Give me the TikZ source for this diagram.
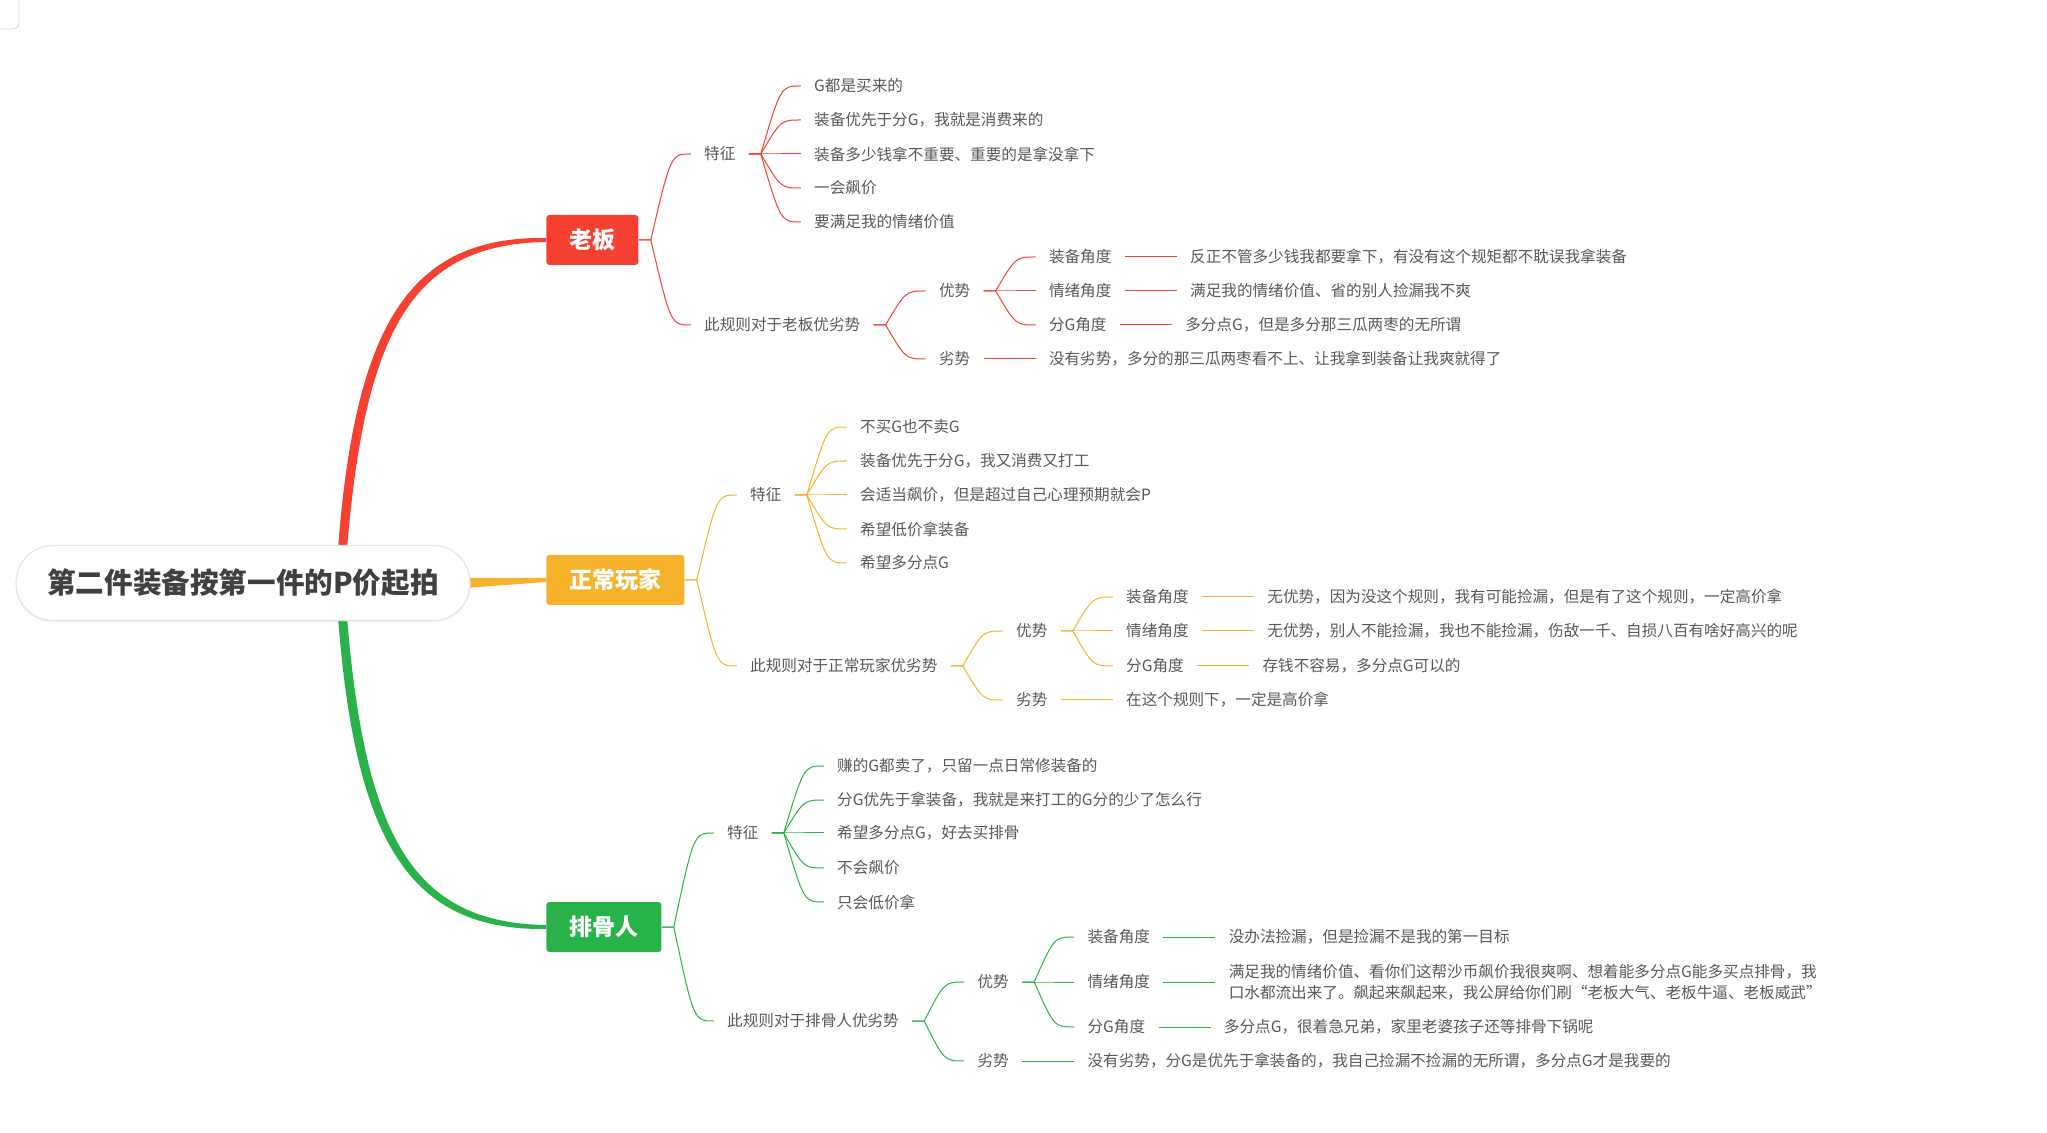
\documentclass[tikz,border=0pt]{standalone}
\usepackage{fontspec}
\setmainfont{Noto Sans CJK SC}
\usetikzlibrary{calc, positioning, backgrounds, shadows}
\definecolor{lbRed}   {RGB}{245, 64, 50}
\definecolor{zcOrange}{RGB}{246,178, 42}
\definecolor{pgGreen} {RGB}{ 42,178, 74}
\definecolor{rootText}{RGB}{ 64, 64, 64}
\definecolor{txtGray} {RGB}{ 88, 88, 88}
%% fork edge: parent -> short stub -> curve into child
\newcommand{\forkto}[3]{\draw[#1, line width=0.5pt] (#2.east) -- ++(6pt,0)
  .. controls ($(#3.west)+(-10pt,0)$) .. (#3.west);}
%% straight edge: label -> leaf text
\newcommand{\leafto}[3]{\draw[#1, line width=0.5pt] (#2.east) -- (#3.west);}

\begin{document}
\begin{tikzpicture}[x=0.5pt, y=-0.5pt,
  root/.style={rectangle, rounded corners=18.5pt, fill=white, draw=black!10,
    line width=0.6pt, minimum width=227pt, minimum height=37.5pt,
    font=\fontsize{14.3pt}{16pt}\selectfont\bfseries, text=rootText,
    drop shadow={opacity=0.10, shadow xshift=0pt, shadow yshift=-1pt}},
  mainbox/.style={rectangle, rounded corners=1.5pt, minimum height=25pt,
    inner xsep=11.5pt, anchor=west, text=white,
    font=\fontsize{11.5pt}{13pt}\selectfont\bfseries},
  txt/.style={rectangle, inner xsep=6.5pt, inner ysep=2pt, align=left,
    text=txtGray, font=\fontsize{7.8pt}{10.5pt}\selectfont},
]
\useasboundingbox (0,0) rectangle (2047,1133);
\draw[black!15, fill=white, rounded corners=3pt] (-20,-20) rectangle (19,29);

%% ── Root and the three main branches ────────────────────────────────────────
\node[root] (root) at (243,583) {第二件装备按第一件的P价起拍};
\node[mainbox, fill=lbRed]    (lb) at (546,240) {老板};
\node[mainbox, fill=zcOrange] (zc) at (546,580) {正常玩家};
\node[mainbox, fill=pgGreen]  (pg) at (546,927) {排骨人};

%% ── 老板 ────────────────────────────────────────────────────────────────────
\node[txt, right=26pt of lb, yshift=43pt]    (lbTz)   {特征};
\node[txt, right=26pt of lb, yshift=-42.5pt] (lbRule) {此规则对于老板优劣势};
\node[txt, right=26pt of lbTz, yshift=34pt]  (lbTz1)  {G都是买来的};
\node[txt, right=26pt of lbTz, yshift=17pt]  (lbTz2)  {装备优先于分G，我就是消费来的};
\node[txt, right=26pt of lbTz]               (lbTz3)  {装备多少钱拿不重要、重要的是拿没拿下};
\node[txt, right=26pt of lbTz, yshift=-17pt] (lbTz4)  {一会飙价};
\node[txt, right=26pt of lbTz, yshift=-34pt] (lbTz5)  {要满足我的情绪价值};
\node[txt, right=26pt of lbRule, yshift=17pt]  (lbAdv) {优势};
\node[txt, right=26pt of lbRule, yshift=-17pt] (lbDis) {劣势};
\node[txt, right=26pt of lbAdv, yshift=17pt]  (lbEq)  {装备角度};
\node[txt, right=26pt of lbAdv]               (lbEmo) {情绪角度};
\node[txt, right=26pt of lbAdv, yshift=-17pt] (lbG)   {分G角度};
\node[txt, right=26pt of lbEq]  (lbEqT)  {反正不管多少钱我都要拿下，有没有这个规矩都不耽误我拿装备};
\node[txt, right=26pt of lbEmo] (lbEmoT) {满足我的情绪价值、省的别人捡漏我不爽};
\node[txt, right=26pt of lbG]   (lbGT)   {多分点G，但是多分那三瓜两枣的无所谓};
\node[txt, right=26pt of lbDis] (lbDisT) {没有劣势，多分的那三瓜两枣看不上、让我拿到装备让我爽就得了};

%% ── 正常玩家 ────────────────────────────────────────────────────────────────
\node[txt, right=26pt of zc, yshift=42.5pt] (zcTz)   {特征};
\node[txt, right=26pt of zc, yshift=-43pt]  (zcRule) {此规则对于正常玩家优劣势};
\node[txt, right=26pt of zcTz, yshift=34pt]  (zcTz1) {不买G也不卖G};
\node[txt, right=26pt of zcTz, yshift=17pt]  (zcTz2) {装备优先于分G，我又消费又打工};
\node[txt, right=26pt of zcTz]               (zcTz3) {会适当飙价，但是超过自己心理预期就会P};
\node[txt, right=26pt of zcTz, yshift=-17pt] (zcTz4) {希望低价拿装备};
\node[txt, right=26pt of zcTz, yshift=-34pt] (zcTz5) {希望多分点G};
\node[txt, right=26pt of zcRule, yshift=17.5pt] (zcAdv) {优势};
\node[txt, right=26pt of zcRule, yshift=-17pt]  (zcDis) {劣势};
\node[txt, right=26pt of zcAdv, yshift=17pt]  (zcEq)  {装备角度};
\node[txt, right=26pt of zcAdv]               (zcEmo) {情绪角度};
\node[txt, right=26pt of zcAdv, yshift=-17.5pt] (zcG) {分G角度};
\node[txt, right=26pt of zcEq]  (zcEqT)  {无优势，因为没这个规则，我有可能捡漏，但是有了这个规则，一定高价拿};
\node[txt, right=26pt of zcEmo] (zcEmoT) {无优势，别人不能捡漏，我也不能捡漏，伤敌一千、自损八百有啥好高兴的呢};
\node[txt, right=26pt of zcG]   (zcGT)   {存钱不容易，多分点G可以的};
\node[txt, right=26pt of zcDis] (zcDisT) {在这个规则下，一定是高价拿};

%% ── 排骨人 ──────────────────────────────────────────────────────────────────
\node[txt, right=26pt of pg, yshift=47pt]  (pgTz)   {特征};
\node[txt, right=26pt of pg, yshift=-47pt] (pgRule) {此规则对于排骨人优劣势};
\node[txt, right=26pt of pgTz, yshift=33.5pt]  (pgTz1) {赚的G都卖了，只留一点日常修装备的};
\node[txt, right=26pt of pgTz, yshift=16.5pt]  (pgTz2) {分G优先于拿装备，我就是来打工的G分的少了怎么行};
\node[txt, right=26pt of pgTz]                 (pgTz3) {希望多分点G，好去买排骨};
\node[txt, right=26pt of pgTz, yshift=-17.5pt] (pgTz4) {不会飙价};
\node[txt, right=26pt of pgTz, yshift=-34.5pt] (pgTz5) {只会低价拿};
\node[txt, right=26pt of pgRule, yshift=19.5pt] (pgAdv) {优势};
\node[txt, right=26pt of pgRule, yshift=-20pt]  (pgDis) {劣势};
\node[txt, right=26pt of pgAdv, yshift=22.5pt]  (pgEq)  {装备角度};
\node[txt, right=26pt of pgAdv]                 (pgEmo) {情绪角度};
\node[txt, right=26pt of pgAdv, yshift=-22.5pt] (pgG)   {分G角度};
\node[txt, right=26pt of pgEq]  (pgEqT)  {没办法捡漏，但是捡漏不是我的第一目标};
\node[txt, right=26pt of pgEmo] (pgEmoT) {满足我的情绪价值、看你们这帮沙币飙价我很爽啊、想着能多分点G能多买点排骨，我\\
  口水都流出来了。飙起来飙起来，我公屏给你们刷“老板大气、老板牛逼、老板威武”};
\node[txt, right=26pt of pgG]   (pgGT)   {多分点G，很着急兄弟，家里老婆孩子还等排骨下锅呢};
\node[txt, right=26pt of pgDis] (pgDisT) {没有劣势，分G是优先于拿装备的，我自己捡漏不捡漏的无所谓，多分点G才是我要的};

%% ── Connectors ──────────────────────────────────────────────────────────────
\begin{pgfonlayer}{background}
% tapered main branches
\fill[lbRed] ($(root.north)+(95,4)$) .. controls +(17,-222) and +(-138,-2) .. ($(lb.west)+(0,-2)$)
  -- ($(lb.west)+(0,2)$) .. controls +(-134,2) and +(18,-218) .. ($(root.north)+(104,4)$) -- cycle;
\fill[zcOrange] ($(root.east)+(-6,-5)$) -- ($(zc.west)+(0,-2)$)
  -- ($(zc.west)+(0,2)$) -- ($(root.east)+(-6,5)$) -- cycle;
\fill[pgGreen] ($(root.south)+(95,-4)$) .. controls +(17,222) and +(-138,2) .. ($(pg.west)+(0,2)$)
  -- ($(pg.west)+(0,-2)$) .. controls +(-134,-2) and +(18,218) .. ($(root.south)+(104,-4)$) -- cycle;
\end{pgfonlayer}

% 老板
\forkto{lbRed}{lb}{lbTz}   \forkto{lbRed}{lb}{lbRule}
\forkto{lbRed}{lbTz}{lbTz1} \forkto{lbRed}{lbTz}{lbTz2} \forkto{lbRed}{lbTz}{lbTz3}
\forkto{lbRed}{lbTz}{lbTz4} \forkto{lbRed}{lbTz}{lbTz5}
\forkto{lbRed}{lbRule}{lbAdv} \forkto{lbRed}{lbRule}{lbDis}
\forkto{lbRed}{lbAdv}{lbEq} \forkto{lbRed}{lbAdv}{lbEmo} \forkto{lbRed}{lbAdv}{lbG}
\leafto{lbRed}{lbEq}{lbEqT} \leafto{lbRed}{lbEmo}{lbEmoT}
\leafto{lbRed}{lbG}{lbGT}   \leafto{lbRed}{lbDis}{lbDisT}

% 正常玩家
\forkto{zcOrange}{zc}{zcTz}   \forkto{zcOrange}{zc}{zcRule}
\forkto{zcOrange}{zcTz}{zcTz1} \forkto{zcOrange}{zcTz}{zcTz2} \forkto{zcOrange}{zcTz}{zcTz3}
\forkto{zcOrange}{zcTz}{zcTz4} \forkto{zcOrange}{zcTz}{zcTz5}
\forkto{zcOrange}{zcRule}{zcAdv} \forkto{zcOrange}{zcRule}{zcDis}
\forkto{zcOrange}{zcAdv}{zcEq} \forkto{zcOrange}{zcAdv}{zcEmo} \forkto{zcOrange}{zcAdv}{zcG}
\leafto{zcOrange}{zcEq}{zcEqT} \leafto{zcOrange}{zcEmo}{zcEmoT}
\leafto{zcOrange}{zcG}{zcGT}   \leafto{zcOrange}{zcDis}{zcDisT}

% 排骨人
\forkto{pgGreen}{pg}{pgTz}   \forkto{pgGreen}{pg}{pgRule}
\forkto{pgGreen}{pgTz}{pgTz1} \forkto{pgGreen}{pgTz}{pgTz2} \forkto{pgGreen}{pgTz}{pgTz3}
\forkto{pgGreen}{pgTz}{pgTz4} \forkto{pgGreen}{pgTz}{pgTz5}
\forkto{pgGreen}{pgRule}{pgAdv} \forkto{pgGreen}{pgRule}{pgDis}
\forkto{pgGreen}{pgAdv}{pgEq} \forkto{pgGreen}{pgAdv}{pgEmo} \forkto{pgGreen}{pgAdv}{pgG}
\leafto{pgGreen}{pgEq}{pgEqT} \leafto{pgGreen}{pgEmo}{pgEmoT}
\leafto{pgGreen}{pgG}{pgGT}   \leafto{pgGreen}{pgDis}{pgDisT}

\end{tikzpicture}
\end{document}
